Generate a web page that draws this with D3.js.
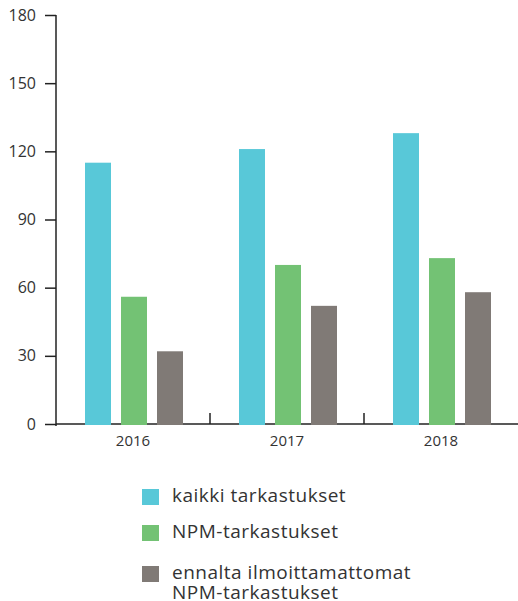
<!DOCTYPE html>
<html>
<head>
<meta charset="utf-8">
<script src="https://cdn.jsdelivr.net/npm/d3@7"></script>
<style>
  body { margin: 0; background: #fff; }
  svg { display: block; font-family: "Open Sans", "Noto Sans", sans-serif; }
</style>
</head>
<body>
<svg id="chart" width="518" height="601"></svg>
<script>
// data
const years = ["2016", "2017", "2018"];
const seriesNames = ["kaikki tarkastukset", "NPM-tarkastukset", "ennalta ilmoittamattomat\nNPM-tarkastukset"];
const kaikki = [115, 121, 128];
const npm = [56, 70, 73];
const ennalta = [32, 52, 58];
const yTicks = [0, 30, 60, 90, 120, 150, 180];
const colors = ["#58c8d8", "#73c274", "#807a76"];

const seriesValues = [kaikki, npm, ennalta];

let svg = d3.select("#chart");

let margin = { left: 56, top: 15, right: 0, bottom: 177 };
let w = 518 - margin.left - margin.right;
let h = 601 - margin.top - margin.bottom;

let chartG = svg.append("g")
    .attr("transform", "translate(" + margin.left + "," + margin.top + ")");

/* scales */
let xScale = d3.scaleBand()
    .domain(years)
    .range([0, w]);

let xInner = d3.scaleBand()
    .domain(d3.range(seriesNames.length))
    .range([xScale.bandwidth() / 2 - 48, xScale.bandwidth() / 2 + 50])
    .paddingInner(10 / 36);

let yScale = d3.scaleLinear()
    .domain([0, 180])
    .range([h, 0]);

/* x axis: ticks at band boundaries pointing up */
let xAxisG = chartG.append("g")
    .attr("transform", "translate(0," + h + ")");
xAxisG.append("line")
    .attr("x1", 0).attr("x2", w)
    .attr("stroke", "#222").attr("stroke-width", 1.5);
xAxisG.selectAll(".bound")
    .data(years.slice(1))
    .join("line")
    .attr("class", "bound")
    .attr("x1", d => xScale(d)).attr("x2", d => xScale(d))
    .attr("y1", 0).attr("y2", -11)
    .attr("stroke", "#222").attr("stroke-width", 1.5);
xAxisG.selectAll("text")
    .data(years)
    .join("text")
    .attr("x", d => xScale(d) + xScale.bandwidth() / 2)
    .attr("y", 22)
    .attr("text-anchor", "middle")
    .attr("fill", "#333")
    .style("font-size", "15px")
    .text(d => d);

/* y axis */
let yAxisG = chartG.append("g")
    .call(d3.axisLeft(yScale).tickValues(yTicks).tickSize(11).tickPadding(9));
yAxisG.select(".domain")
    .attr("d", "M0," + yScale(180) + "V" + (h + 2))
    .attr("stroke", "#222").attr("stroke-width", 1.5);
yAxisG.selectAll(".tick line").attr("stroke", "#222").attr("stroke-width", 1.5);
yAxisG.selectAll(".tick text")
    .attr("fill", "#333")
    .style("font-size", "16px")
    .style("font-family", "'Open Sans', 'Noto Sans', sans-serif");

/* bars */
let groups = chartG.append("g").attr("id", "bars")
    .selectAll("g")
    .data(years)
    .join("g")
    .attr("transform", d => "translate(" + xScale(d) + ",0)");

groups.selectAll("rect")
    .data((d, i) => seriesValues.map((s, k) => ({ k: k, v: s[i] })))
    .join("rect")
    .attr("x", d => xInner(d.k))
    .attr("width", xInner.bandwidth())
    .attr("y", d => yScale(d.v))
    .attr("height", d => h + 1 - yScale(d.v))
    .attr("fill", d => colors[d.k]);

/* legend */
let legend = svg.append("g").attr("transform", "translate(142,489)");
let rows = [0, 36, 77];
seriesNames.forEach((name, i) => {
    let g = legend.append("g").attr("transform", "translate(0," + rows[i] + ")");
    g.append("rect")
        .attr("width", 17).attr("height", 16)
        .attr("fill", colors[i]);
    let t = g.append("text")
        .attr("x", 30).attr("y", 13)
        .attr("fill", "#333")
        .style("font-size", "19px")
        .style("letter-spacing", "0.5px");
    name.split("\n").forEach((line, j) => {
        t.append("tspan")
            .attr("x", 30)
            .attr("dy", j == 0 ? 0 : 20)
            .text(line);
    });
});
</script>
</body>
</html>
